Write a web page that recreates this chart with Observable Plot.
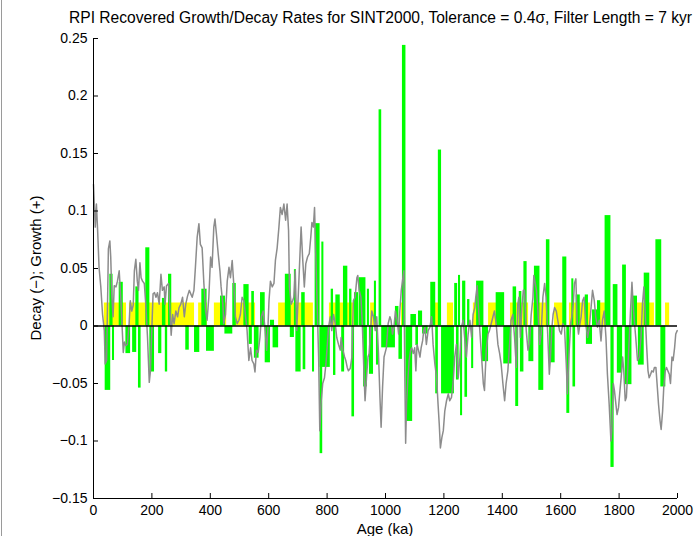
<!DOCTYPE html>
<html><head><meta charset="utf-8">
<script src="https://cdn.jsdelivr.net/npm/d3@7"></script>
<script src="https://cdn.jsdelivr.net/npm/@observablehq/plot@0.6"></script>
<style>
html,body{margin:0;padding:0;background:#fff;overflow:hidden;}
#wrap{position:relative;width:695px;height:536px;overflow:hidden;font-family:"Liberation Sans",Arial,Helvetica,sans-serif;color:#000;}
#title{position:absolute;left:69px;top:9px;font-size:15.6px;white-space:nowrap;}
#ylab{position:absolute;left:35px;top:268px;font-size:15px;white-space:nowrap;transform:translate(-50%,-50%) rotate(-90deg);}
#xlab{position:absolute;left:385px;top:528px;font-size:15px;white-space:nowrap;transform:translate(-50%,-50%);}
#edge{position:absolute;left:1px;top:0;width:1px;height:536px;background:#9a9a9a;}
#chart{position:absolute;left:0;top:0;}
</style></head><body>
<div id="wrap">
<div id="chart"></div>
<div id="title">RPI Recovered Growth/Decay Rates for SINT2000, Tolerance = 0.4σ, Filter Length = 7 kyr</div>
<div id="ylab">Decay (−); Growth (+)</div>
<div id="xlab">Age (ka)</div>
<div id="edge"></div>
</div>
<script>
// ---- data (ages in ka, rates) ----
const xTicks = [0, 200, 400, 600, 800, 1000, 1200, 1400, 1600, 1800, 2000];
const yTicks = [-0.15, -0.1, -0.05, 0, 0.05, 0.1, 0.15, 0.2, 0.25];

const yellowLevel = 0.02;
const yellowStart = [37, 123, 360, 414, 480, 634, 808, 949, 1055, 1170, 1212, 1301, 1353, 1428, 1507, 1579, 1630, 1726, 1856, 1959];
const yellowEnd   = [113, 346, 390, 456, 555, 753, 908, 966, 1062, 1182, 1233, 1313, 1380, 1490, 1555, 1608, 1702, 1753, 1921, 1973];

const greenStart = [40, 56, 65, 88, 111, 134, 145, 154, 179, 193, 223, 236, 246, 257, 316, 346, 371, 387, 435, 450, 477, 515, 533, 542, 551, 572, 588, 606, 615, 657, 674, 688, 693, 713, 718, 750, 759, 782, 776, 776, 814, 822, 830, 850, 856, 877, 885, 894, 910, 925, 938, 945, 962, 969, 978, 987, 1034, 1046, 1058, 1070, 1087, 1104, 1113, 1127, 1155, 1172, 1181, 1192, 1237, 1243, 1250, 1257, 1264, 1272, 1281, 1295, 1312, 1332, 1379, 1405, 1437, 1446, 1458, 1462, 1474, 1491, 1510, 1525, 1551, 1562, 1607, 1621, 1638, 1642, 1653, 1684, 1688, 1709, 1726, 1752, 1772, 1780, 1794, 1812, 1821, 1844, 1866, 1886, 1926, 1943];
const greenEnd   = [59, 67, 72, 102, 127, 148, 156, 163, 193, 209, 234, 248, 254, 268, 328, 364, 389, 414, 452, 477, 489, 533, 544, 551, 567, 588, 606, 620, 634, 677, 688, 695, 711, 725, 727, 757, 776, 789, 811, 785, 822, 830, 845, 860, 871, 885, 894, 908, 933, 938, 945, 959, 969, 976, 987, 1034, 1046, 1058, 1070, 1093, 1106, 1113, 1127, 1146, 1172, 1181, 1192, 1236, 1247, 1252, 1257, 1264, 1275, 1281, 1289, 1302, 1337, 1353, 1408, 1433, 1449, 1456, 1467, 1474, 1485, 1508, 1529, 1542, 1563, 1581, 1621, 1631, 1645, 1651, 1667, 1695, 1709, 1726, 1737, 1772, 1783, 1796, 1812, 1825, 1844, 1863, 1886, 1905, 1946, 1960];
const greenRate  = [-0.056, 0.045, -0.030, 0.038, -0.024, -0.023, 0.034, -0.054, 0.068, -0.040, -0.024, 0.024, -0.040, 0.045, -0.021, -0.023, 0.032, -0.022, 0.026, -0.007, 0.037, 0.036, -0.016, 0.030, -0.028, 0.029, -0.032, 0.005, -0.019, 0.045, -0.010, 0.049, -0.040, 0.029, -0.038, -0.040, 0.089, 0.073, -0.036, -0.111, 0.032, -0.043, 0.027, -0.040, 0.052, 0.032, -0.079, 0.029, 0.042, -0.053, 0.032, -0.042, 0.039, -0.034, 0.188, -0.019, 0.017, -0.029, 0.244, -0.083, 0.010, -0.017, 0.013, -0.007, 0.038, -0.059, 0.153, -0.059, 0.037, -0.047, 0.044, -0.078, 0.039, -0.062, 0.023, -0.037, 0.039, -0.031, 0.029, -0.033, 0.034, -0.070, 0.030, -0.040, 0.056, -0.031, 0.052, -0.056, 0.075, -0.032, 0.060, -0.076, 0.041, -0.053, 0.027, 0.027, -0.016, 0.014, 0.022, 0.096, -0.123, 0.036, -0.041, 0.053, -0.051, 0.026, -0.034, 0.046, 0.075, -0.053];

const lineAge = [0, 6, 10, 14, 19, 25, 31, 37, 40, 45, 48, 51, 56, 59, 63, 67, 71, 77, 82, 88, 94, 97, 102, 106, 111, 116, 122, 126, 131, 136, 140, 145, 150, 154, 159, 163, 168, 174, 179, 185, 191, 195, 200, 204, 209, 214, 219, 225, 231, 236, 242, 245, 250, 257, 261, 266, 271, 276, 282, 288, 293, 299, 305, 311, 316, 322, 328,
 338, 344, 349, 355, 361, 366, 372, 378, 384, 389, 395, 401, 406, 412, 416, 421, 427, 433, 437, 443, 446, 452, 458, 464, 469, 475, 481, 486, 492, 498, 503, 509, 515, 521, 526, 532, 538, 543, 549, 553, 558, 564, 570, 575, 581, 587, 593, 597, 601, 606, 612, 618, 623, 629, 635, 640, 646, 652, 658, 663, 668,
 671, 677, 682, 686, 691, 696, 702, 708, 711, 716, 722, 727, 733, 739, 744, 748, 753, 757, 761, 766, 771, 775, 780, 785, 791, 796, 800, 805, 811, 816, 822, 828, 833, 839, 845, 848, 854, 860, 864, 869, 873, 879, 885, 890, 896, 902, 905, 910, 916, 921, 926, 930, 935, 940, 944, 949, 953, 959, 965, 970, 976, 981, 985, 990, 995, 1003,
 1009, 1015, 1019, 1024, 1029, 1034, 1040, 1045, 1049, 1054, 1058, 1063, 1066, 1069, 1072, 1077, 1081, 1086, 1090, 1095, 1100, 1104, 1108, 1113, 1118, 1122, 1127, 1131, 1135, 1140, 1146, 1152, 1158, 1163, 1169, 1175, 1180, 1184, 1188, 1193, 1198, 1203, 1209, 1215, 1220, 1226, 1232, 1237, 1243, 1249, 1255, 1260, 1266, 1272, 1277, 1283, 1289, 1295, 1300, 1306, 1309, 1314, 1319, 1323, 1329, 1335, 1339,
 1345, 1351, 1356, 1362, 1368, 1373, 1379, 1385, 1391, 1396, 1402, 1408, 1413, 1419, 1425, 1430, 1436, 1442, 1448, 1453, 1457, 1462, 1467, 1472, 1476, 1482, 1488, 1493, 1499, 1505, 1508, 1513, 1517, 1522, 1528, 1533, 1539, 1545, 1550, 1556, 1561, 1565, 1570, 1574, 1579, 1585, 1590, 1596, 1602, 1607, 1613, 1619, 1623, 1628, 1634, 1638, 1643, 1647, 1652, 1656, 1661, 1666, 1670,
 1675, 1680, 1686, 1692, 1698, 1703, 1709, 1715, 1720, 1726, 1732, 1738, 1743, 1749, 1755, 1760, 1766, 1772, 1775, 1780, 1784, 1789, 1793, 1798, 1803, 1807, 1812, 1816, 1821, 1825, 1830, 1835, 1839, 1844, 1848, 1853, 1857, 1863, 1869, 1875, 1880, 1885, 1889, 1894, 1899, 1903, 1908, 1912, 1917, 1921, 1926, 1930, 1935, 1940, 1944, 1949, 1953, 1958, 1962, 1967, 1972, 1976, 1981, 1985, 1990, 1994, 1999];
const lineRate = [0.123, 0.086, 0.106, 0.084, 0.051, 0.034, 0.010, -0.004, -0.033, -0.030, 0.019, 0.067, 0.074, 0.060, 0.025, 0.008, 0.035, 0.034, 0.039, 0.048, 0.022, 0.005, -0.023, -0.014, -0.017, -0.016, 0.002, 0.022, 0.013, 0.018, 0.048, 0.058, 0.039, 0.031, 0.055, 0.042, 0.039, 0.037, 0.019, -0.010, -0.049, -0.039, -0.001, 0.028, 0.029, 0.025, 0.029, 0.019, 0.045, 0.031, 0.034, 0.019, 0.035, 0.037, 0.019, -0.008, 0.010, 0.002, 0.013, 0.008, 0.016, 0.019, 0.025, 0.008, 0.019, 0.026, 0.031,
 0.025, 0.031, 0.051, 0.077, 0.089, 0.071, 0.068, 0.037, 0.013, 0.005, 0.025, 0.060, 0.051, 0.086, 0.093, 0.080, 0.063, 0.048, 0.034, 0.019, 0.002, 0.010, 0.039, 0.051, 0.042, 0.057, 0.034, 0.008, 0.002, 0.005, 0.010, 0.025, 0.022, 0.008, -0.004, -0.030, -0.019, -0.030, -0.033, -0.040, -0.021, -0.023, -0.010, 0.008, 0.013, -0.001, -0.021, -0.004, 0.022, 0.039, 0.034, 0.037, 0.057, 0.068, 0.086, 0.103, 0.097, 0.106, 0.092, 0.106, 0.083,
 0.034, 0.019, 0.022, 0.025, 0.048, -0.004, 0.031, 0.068, 0.086, 0.060, 0.034, 0.054, 0.060, 0.063, 0.077, 0.090, 0.086, 0.103, 0.063, 0.019, -0.027, -0.091, -0.065, -0.050, -0.045, -0.033, -0.019, -0.001, 0.008, -0.004, 0.010, 0.002, -0.010, -0.016, -0.021, -0.010, -0.021, -0.027, -0.030, -0.036, -0.039, -0.037, -0.027, 0.022, 0.025, 0.042, 0.044, 0.031, 0.025, -0.001, -0.039, -0.065, -0.045, -0.027, -0.024, -0.004, 0.013, 0.008, -0.004, 0.008, -0.024, -0.062, -0.088, -0.053, -0.027, -0.019,
 0.002, 0.008, 0.005, -0.007, -0.001, 0.013, 0.005, -0.007, 0.013, 0.031, 0.039, 0.048, -0.039, -0.102, -0.068, -0.045, -0.030, -0.021, -0.019, -0.024, -0.019, -0.039, -0.016, -0.021, -0.027, -0.019, -0.013, -0.004, -0.001, -0.016, -0.004, -0.001, 0.008, -0.016, -0.033, -0.045, -0.068, -0.085, -0.106, -0.097, -0.091, -0.074, -0.065, -0.059, -0.065, -0.062, -0.048, -0.027, -0.016, -0.045, -0.027, -0.001, 0.005, -0.013, -0.027, -0.007, 0.005, -0.010, 0.010, 0.016, 0.025, 0.035, 0.013, -0.004, -0.027, -0.050, -0.056,
 -0.021, -0.007, -0.004, 0.002, 0.008, 0.013, 0.002, -0.016, -0.024, -0.033, -0.050, -0.065, -0.050, -0.039, -0.016, 0.005, 0.010, -0.010, -0.036, 0.019, 0.025, -0.010, 0.016, 0.031, 0.031, -0.004, -0.021, -0.016, 0.010, 0.025, 0.044, 0.037, 0.031, 0.013, -0.016, -0.007, 0.025, 0.037, 0.025, -0.010, -0.042, -0.027, -0.001, 0.010, 0.016, 0.013, 0.005, -0.004, -0.007, 0.002, -0.001, -0.033, -0.059, -0.027, 0.002, 0.008, 0.019, 0.037, 0.041, 0.005, -0.007, 0.002, 0.008,
 0.022, 0.025, 0.002, -0.010, -0.001, 0.013, 0.031, 0.022, 0.008, -0.001, 0.005, -0.013, 0.005, 0.013, -0.010, -0.042, -0.068, -0.100, -0.091, -0.050, -0.056, -0.068, -0.077, -0.071, -0.056, -0.045, -0.027, -0.039, -0.065, -0.062, -0.036, -0.010, 0.013, 0.038, 0.019, 0.002, -0.010, -0.030, -0.027, -0.010, 0.019, 0.034, 0.013, -0.016, -0.039, -0.045, -0.042, -0.039, -0.040, -0.036, -0.036, -0.050, -0.068, -0.082, -0.090, -0.074, -0.053, -0.039, -0.036, -0.039, -0.042, -0.050, -0.027, -0.030, -0.019, -0.007, -0.004];

// ---- tables built from the arrays ----
const yellow = yellowStart.map((s, i) => ({s, e: yellowEnd[i], r: yellowLevel}));
const green = greenStart.map((s, i) => ({s, e: greenEnd[i], r: greenRate[i]}));
const series = lineAge.map((a, i) => ({a, r: lineRate[i]}));

const fmt = d => d < 0 ? "\u2212" + String(Math.abs(d)) : String(d);
const font = '"Liberation Sans", Arial, Helvetica, sans-serif';

const chart = Plot.plot({
  width: 695, height: 536,
  marginLeft: 93, marginRight: 18, marginTop: 38, marginBottom: 38,
  style: {fontFamily: font, fontSize: "14px", background: "transparent", color: "#000"},
  x: {domain: [0, 2000]},
  y: {domain: [-0.15, 0.25]},
  marks: [
    Plot.rect(yellow, {x1: "s", x2: "e", y1: 0, y2: "r", fill: "#ffff00"}),
    Plot.rect(green, {x1: "s", x2: "e", y1: 0, y2: "r", fill: "#00ff00"}),
    Plot.line(series, {x: "a", y: "r", stroke: "#8c8c8c", strokeWidth: 1.5}),
    Plot.ruleY([0], {stroke: "#000", strokeWidth: 1.6}),
    Plot.ruleX([0], {stroke: "#000", strokeWidth: 1}),
    Plot.ruleY([-0.15], {stroke: "#000", strokeWidth: 1}),
    Plot.axisY({ticks: yTicks, tickFormat: fmt, tickSize: -5, tickPadding: 11, label: null}),
    Plot.axisX({ticks: xTicks, tickFormat: d => String(d), tickSize: -5, tickPadding: 12, label: null})
  ]
});
document.getElementById("chart").appendChild(chart);
</script>
</body></html>
